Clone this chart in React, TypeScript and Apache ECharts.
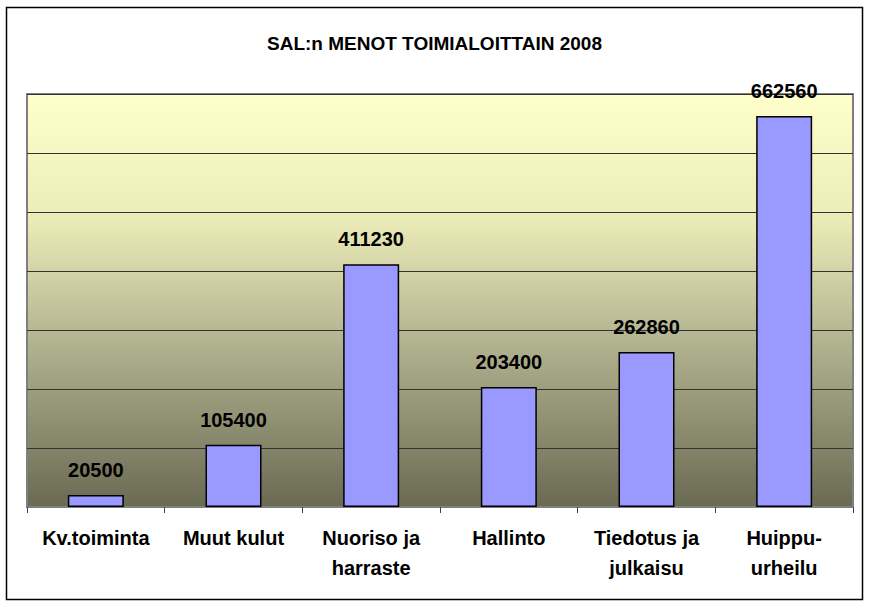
import React, { useEffect, useRef } from "react";
import * as echarts from "echarts";

const categories = ["Kv.toiminta", "Muut kulut", "Nuoriso ja\nharraste", "Hallinto", "Tiedotus ja\njulkaisu", "Huippu-\nurheilu"];
const values = [20500, 105400, 411230, 203400, 262860, 662560];
const titleText = "SAL:n MENOT TOIMIALOITTAIN 2008";

export default function App() {
  const ref = useRef<HTMLDivElement>(null);
  useEffect(() => {
    if (!ref.current) return;
    const chart = echarts.init(ref.current, null, { renderer: "svg" });
    chart.setOption({
      animation: false,
      backgroundColor: "#ffffff",
      title: {
        text: titleText,
        left: "center",
        top: 29,
        textStyle: { fontFamily: "Liberation Sans, Arial", fontWeight: "bold", fontSize: 19, color: "#000" },
      },
      graphic: [
        {
          type: "rect",
          shape: { x: 6.5, y: 7.5, width: 856, height: 592 },
          style: { fill: "none", stroke: "#000", lineWidth: 1.5 },
          z: 100,
        },
      ],
      grid: {
        left: 27,
        right: 16,
        top: 94,
        bottom: 100,
        show: true,
        borderColor: "#808080",
        borderWidth: 2,
        backgroundColor: new echarts.graphic.LinearGradient(0, 0, 0, 1, [
          { offset: 0, color: "#ffffcc" },
          { offset: 0.3, color: "#ececb8" },
          { offset: 0.6, color: "#b2b390" },
          { offset: 1, color: "#6a6a53" },
        ]),
      },
      xAxis: {
        type: "category",
        data: categories,
        axisLine: { show: true, lineStyle: { color: "#808080", width: 1 } },
        axisTick: { show: true, length: 6, lineStyle: { color: "#404040" } },
        axisLabel: {
          interval: 0,
          margin: 16,
          fontFamily: "Liberation Sans, Arial",
          fontWeight: "bold",
          fontSize: 20,
          lineHeight: 30,
          color: "#000",
        },
      },
      yAxis: {
        type: "value",
        min: 0,
        max: 700000,
        interval: 100000,
        axisLabel: { show: false },
        axisLine: { show: false },
        axisTick: { show: false },
        splitLine: { show: true, lineStyle: { color: "#333333", width: 1 } },
      },
      series: [
        {
          type: "bar",
          data: values,
          barWidth: 56,
          itemStyle: { color: "#9999ff", borderColor: "#000", borderWidth: 1.5 },
          label: {
            show: true,
            position: "top",
            distance: 15,
            fontFamily: "Liberation Sans, Arial",
            fontWeight: "bold",
            fontSize: 20,
            color: "#000",
          },
        },
      ],
    });
    return () => chart.dispose();
  }, []);
  return <div ref={ref} style={{ position: "fixed", left: 0, top: 0, width: 869, height: 607 }} />;
}
